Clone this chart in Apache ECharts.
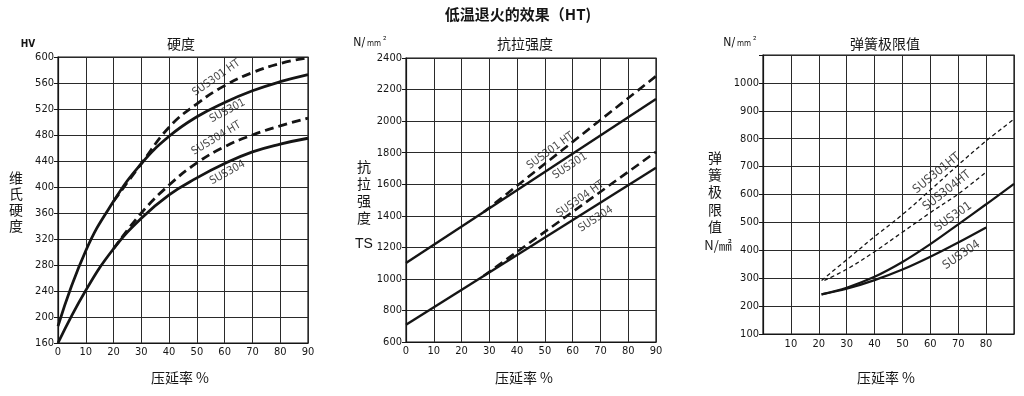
<!DOCTYPE html>
<html><head><meta charset="utf-8">
<script src="https://cdn.jsdelivr.net/npm/echarts@6/dist/echarts.min.js"></script>
<style>html,body{margin:0;padding:0;background:#fff}#c{width:1024px;height:396px}</style>
</head><body><div id="c"></div>
<script>
// ---------- Panel 1: 硬度 (HV) ----------
const hvX      = [0, 10, 20, 30, 40, 50, 60, 70, 80, 90];
const hv301    = [186, 302, 378, 436, 478, 508, 530, 548, 562, 573];
const hv304    = [160, 241, 305, 352, 388, 414, 436, 454, 466, 475];
const hvHtX    = [20, 30, 40, 50, 60, 70, 80, 90];
const hv301ht  = [378, 436, 492, 528, 556, 576, 590, 599];
const hv304ht  = [305, 360, 403, 437, 462, 480, 494, 506];

// ---------- Panel 2: 抗拉强度 (TS) ----------
const tsX      = [0, 90];
const ts301    = [1100, 2140];
const ts304    = [710, 1705];
const tsHtX    = [28, 90];
const ts301ht  = [1424, 2285];
const ts304ht  = [1020, 1805];

// ---------- Panel 3: 弹簧极限值 ----------
const sp301X   = [21, 30, 40, 50, 60, 70, 80, 90];
const sp301    = [242, 266, 305, 358, 422, 493, 565, 638];
const sp304X   = [21, 30, 40, 50, 60, 70, 80];
const sp304    = [242, 262, 293, 331, 377, 428, 482];
const sp301htX = [21, 30, 40, 50, 60, 70, 80, 90];
const sp301ht  = [292, 366, 449, 528, 616, 706, 792, 870];
const sp304htX = [22, 30, 40, 50, 60, 70, 80];
const sp304ht  = [292, 332, 395, 465, 535, 602, 680];

const seriesNames = ['SUS301 HT', 'SUS301', 'SUS304 HT', 'SUS304'];

const NUM = '"Liberation Sans Narrow","DejaVu Sans Condensed","Liberation Sans",sans-serif';
const CJK = '"Noto Sans CJK SC","Noto Sans",sans-serif';
const INK = '#151515';

function pairs(xs, ys) { return xs.map((x, i) => [x, ys[i]]); }

function mkX(grid, labelFilter, margin) {
  return {
    type: 'value', gridIndex: grid, min: 0, max: 90, interval: 10,
    axisLine: { show: true, lineStyle: { color: INK, width: 1.2 } },
    axisTick: { show: false },
    splitLine: { show: true, lineStyle: { color: '#2a2a2a', width: 1 } },
    axisLabel: { color: INK, fontSize: 11, fontFamily: NUM, margin: margin,
      formatter: v => labelFilter(v) ? String(v) : '' }
  };
}
function mkY(grid, min, max, interval, labelFilter) {
  return {
    type: 'value', gridIndex: grid, min: min, max: max, interval: interval,
    axisLine: { show: true, lineStyle: { color: INK, width: 1.2 } },
    axisTick: { show: true, length: 4, lineStyle: { color: INK } },
    splitLine: { show: true, lineStyle: { color: '#2a2a2a', width: 1 } },
    axisLabel: { color: INK, fontSize: 11, fontFamily: NUM, margin: 4,
      formatter: v => labelFilter(v) ? String(v) : '' }
  };
}
function line(grid, xs, ys, dashed, w, smooth, dash) {
  return {
    type: 'line', xAxisIndex: grid, yAxisIndex: grid, data: pairs(xs, ys),
    showSymbol: false, symbol: 'none', smooth: smooth, silent: true,
    lineStyle: { color: INK, width: w, type: dashed ? dash : 'solid' }
  };
}
function labels(grid, items, size) {
  return {
    type: 'scatter', xAxisIndex: grid, yAxisIndex: grid, symbolSize: 0, silent: true,
    label: { show: true, position: 'inside', color: INK, fontSize: size, fontFamily: NUM },
    data: items.map(it => ({ value: [it[0], it[1]], label: { formatter: it[2], rotate: it[3] } }))
  };
}

const chart = echarts.init(document.getElementById('c'), null, { renderer: 'canvas' });

const txt = (x, y, text, font, extra) => Object.assign({
  type: 'text', x: x, y: y, silent: true,
  style: Object.assign({ text: text, fill: INK, font: font, align: 'center', verticalAlign: 'middle',
    textAlign: 'center', textVerticalAlign: 'middle' }, extra || {})
});
const unitRich = {
  a: { fontSize: 12, fontFamily: NUM, fill: INK, color: INK },
  b: { fontSize: 8, fontFamily: NUM, fill: INK, color: INK, padding: [2, 0, 0, 2] },
  c: { fontSize: 10, fontFamily: NUM, fill: INK, color: INK, padding: [0, 0, 4, 2] }
};

chart.setOption({
  animation: false,
  backgroundColor: '#fff',
  grid: [
    { left: 58, top: 57, width: 250, height: 286, show: true, borderColor: INK, borderWidth: 1.2 },
    { left: 406, top: 58, width: 250, height: 284, show: true, borderColor: INK, borderWidth: 1.2 },
    { left: 763, top: 55, width: 251, height: 279, show: true, borderColor: INK, borderWidth: 1.2 }
  ],
  xAxis: [
    mkX(0, v => true, 4),
    mkX(1, v => true, 4),
    mkX(2, v => v > 0 && v < 90, 5)
  ],
  yAxis: [
    mkY(0, 160, 600, 40, v => true),
    mkY(1, 600, 2400, 200, v => true),
    mkY(2, 100, 1100, 100, v => v < 1100)
  ],
  series: [
    line(0, hvHtX, hv301ht, true, 2.8, 0.45, [9, 5]),
    line(0, hvX, hv301, false, 2.8, 0.45),
    line(0, hvHtX, hv304ht, true, 2.8, 0.45, [9, 5]),
    line(0, hvX, hv304, false, 2.8, 0.45),
    labels(0, [[57, 568, seriesNames[0], 35], [61, 517, seriesNames[1], 28],
               [57, 475, seriesNames[2], 31], [61, 422, seriesNames[3], 29]], 11),

    line(1, tsHtX, ts301ht, true, 2.6, false, [9, 5]),
    line(1, tsX, ts301, false, 2.4, false),
    line(1, tsHtX, ts304ht, true, 2.6, false, [9, 5]),
    line(1, tsX, ts304, false, 2.4, false),
    labels(1, [[52, 1812, seriesNames[0], 36], [59, 1715, seriesNames[1], 33],
               [62.7, 1506, seriesNames[2], 35], [68.3, 1379, seriesNames[3], 33]], 11),

    line(2, sp301htX, sp301ht, true, 1.3, 0.35, [4, 3]),
    line(2, sp304htX, sp304ht, true, 1.3, 0.35, [4, 3]),
    line(2, sp301X, sp301, false, 2.2, 0.35),
    line(2, sp304X, sp304, false, 2.2, 0.35),
    labels(2, [[62.3, 676, 'SUS301HT', 39], [65.9, 613, 'SUS304HT', 38],
               [68.2, 520, 'SUS301', 35], [71.2, 383, 'SUS304', 34]], 12)
  ],
  graphic: [
    txt(518, 14, '低温退火的效果（HT)', 'bold 15px ' + CJK),
    txt(181, 44, '硬度', '14px ' + CJK),
    txt(525, 44, '抗拉强度', '14px ' + CJK),
    txt(885, 44, '弹簧极限值', '14px ' + CJK),
    txt(28, 44, 'HV', 'bold 10px ' + NUM),
    txt(370, 43, '{a|N/}{b|mm}{c|²}', '12px ' + NUM, { rich: unitRich }),
    txt(740, 43, '{a|N/}{b|mm}{c|²}', '12px ' + NUM, { rich: unitRich }),
    txt(16, 202, '维\n氏\n硬\n度', '14px ' + CJK, { lineHeight: 16 }),
    txt(364, 192, '抗\n拉\n强\n度', '14px ' + CJK, { lineHeight: 17 }),
    txt(364, 244, 'TS', '14px ' + '"Liberation Sans",sans-serif'),
    txt(715, 192, '弹\n簧\n极\n限\n值', '14px ' + CJK, { lineHeight: 17.4 }),
    txt(718, 245, 'N/㎟', '13px ' + CJK),
    txt(180, 378, '压延率 %', '14px ' + CJK),
    txt(524, 378, '压延率 %', '14px ' + CJK),
    txt(886, 378, '压延率 %', '14px ' + CJK)
  ]
});
</script>
</body></html>
